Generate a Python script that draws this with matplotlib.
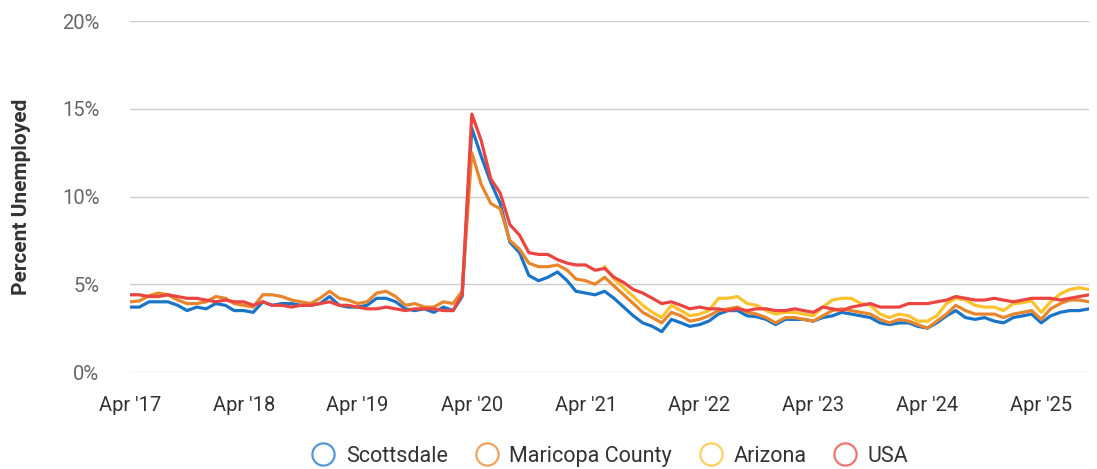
import numpy as np
import pandas as pd
import matplotlib
matplotlib.use("Agg")
import matplotlib.pyplot as plt
import matplotlib.dates as mdates
from matplotlib.lines import Line2D
from matplotlib.ticker import FuncFormatter

plt.rcParams["font.family"] = ["Roboto", "DejaVu Sans"]

# monthly unemployment rate (%), Apr 2017 .. Sep 2025
months = pd.date_range("2017-04-01", periods=102, freq="MS")

scottsdale = [
    3.7, 3.7, 4.0, 4.0, 4.0, 3.8, 3.5, 3.7, 3.6,
    3.9, 3.8, 3.5, 3.5, 3.4, 4.0, 3.8, 3.9, 3.9, 3.8, 3.8, 3.9,
    4.3, 3.8, 3.7, 3.7, 3.8, 4.2, 4.2, 4.0, 3.6, 3.5, 3.6, 3.4,
    3.7, 3.5, 4.3, 13.9, 12.3, 10.8, 9.6, 7.4, 6.8, 5.5, 5.2, 5.4,
    5.7, 5.2, 4.6, 4.5, 4.4, 4.6, 4.2, 3.7, 3.2, 2.8, 2.6, 2.3,
    3.0, 2.8, 2.6, 2.7, 2.9, 3.3, 3.5, 3.5, 3.2, 3.15, 3.0, 2.7,
    3.0, 3.0, 3.0, 2.9, 3.1, 3.2, 3.4, 3.3, 3.2, 3.1, 2.8, 2.7,
    2.8, 2.8, 2.6, 2.5, 2.8, 3.2, 3.5, 3.1, 3.0, 3.1, 2.9, 2.8,
    3.1, 3.2, 3.3, 2.8, 3.2, 3.4, 3.5, 3.5, 3.6,
]
maricopa = [
    4.0, 4.05, 4.35, 4.5, 4.4, 4.1, 3.9, 3.9, 4.0,
    4.3, 4.2, 3.9, 3.8, 3.7, 4.4, 4.4, 4.3, 4.1, 4.0, 3.9, 4.2,
    4.6, 4.2, 4.1, 3.9, 4.0, 4.5, 4.6, 4.3, 3.8, 3.9, 3.7, 3.7,
    4.0, 3.9, 4.6, 12.5, 10.7, 9.6, 9.3, 7.5, 7.0, 6.2, 6.0, 6.0,
    6.1, 5.8, 5.3, 5.2, 5.0, 5.4, 4.9, 4.4, 3.9, 3.4, 3.1, 2.8,
    3.4, 3.2, 2.9, 3.0, 3.2, 3.5, 3.6, 3.7, 3.4, 3.3, 3.1, 2.8,
    3.1, 3.1, 3.0, 2.9, 3.2, 3.5, 3.6, 3.5, 3.4, 3.3, 3.0, 2.8,
    3.0, 2.9, 2.7, 2.5, 2.9, 3.3, 3.8, 3.5, 3.3, 3.3, 3.3, 3.1,
    3.3, 3.4, 3.5, 3.0, 3.6, 3.9, 4.1, 4.1, 4.0,
]
# Arizona series only shown from Jun 2021
arizona = [np.nan] * 50 + [
    6.0, 5.3, 4.8, 4.3, 3.8, 3.4, 3.1,
    3.8, 3.5, 3.2, 3.3, 3.5, 4.2, 4.2, 4.3, 3.9, 3.8, 3.5, 3.3,
    3.4, 3.4, 3.3, 3.2, 3.7, 4.1, 4.2, 4.2, 3.9, 3.8, 3.3, 3.1,
    3.3, 3.2, 2.9, 2.9, 3.2, 3.9, 4.2, 4.1, 3.8, 3.7, 3.7, 3.5,
    3.9, 3.95, 4.05, 3.4, 4.0, 4.45, 4.7, 4.8, 4.7,
]
usa = [
    4.4, 4.4, 4.3, 4.3, 4.4, 4.3, 4.2, 4.2, 4.1,
    4.0, 4.1, 4.0, 4.0, 3.8, 4.0, 3.8, 3.8, 3.7, 3.8, 3.8, 3.9,
    4.0, 3.8, 3.8, 3.7, 3.6, 3.6, 3.7, 3.6, 3.5, 3.6, 3.6, 3.6,
    3.5, 3.5, 4.4, 14.7, 13.2, 11.0, 10.2, 8.4, 7.8, 6.8, 6.7, 6.7,
    6.4, 6.2, 6.1, 6.1, 5.8, 5.9, 5.4, 5.1, 4.7, 4.5, 4.2, 3.9,
    4.0, 3.8, 3.6, 3.7, 3.6, 3.6, 3.5, 3.6, 3.5, 3.6, 3.6, 3.5,
    3.5, 3.6, 3.5, 3.4, 3.7, 3.6, 3.5, 3.7, 3.8, 3.9, 3.7, 3.7,
    3.7, 3.9, 3.9, 3.9, 4.0, 4.1, 4.3, 4.2, 4.1, 4.1, 4.2, 4.1,
    4.0, 4.1, 4.2, 4.2, 4.2, 4.1, 4.2, 4.3, 4.4,
]

series = [
    ("Scottsdale", scottsdale, "#1a74c7"),
    ("Maricopa County", maricopa, "#e8862c"),
    ("Arizona", arizona, "#fcc22e"),
    ("USA", usa, "#eb4541"),
]

fig = plt.figure(figsize=(10.97, 4.69), dpi=100)
ax = fig.add_axes([0.1185, 0.2068, 0.8742, 0.7484])

for name, vals, col in series:
    ax.plot(months, vals, color=col, lw=2.3, solid_joinstyle="round")

ax.set_ylim(0, 20)
ax.set_yticks([0, 5, 10, 15, 20])
ax.yaxis.set_major_formatter(FuncFormatter(lambda v, _: f"{v:.0f}%"))
ax.set_xlim(months[0], months[-1])
apr_ticks = [d for d in months if d.month == 4]
ax.set_xticks(apr_ticks)
ax.xaxis.set_major_formatter(mdates.DateFormatter("Apr '%y"))

ax.grid(axis="y", color="#cccccc", lw=1)
ax.set_axisbelow(True)
for s in ax.spines.values():
    s.set_visible(False)
ax.tick_params(axis="y", length=0, pad=22, labelsize=14.5, labelcolor="#666666")
ax.tick_params(axis="x", length=0, pad=17, labelsize=14.5, labelcolor="#333333")
ax.set_ylabel("Percent Unemployed", fontsize=15, fontweight="bold", color="#333333", labelpad=22)

handles = [Line2D([], [], ls="none", marker="o", ms=16, mfc="none", mec=col,
                  mew=1.6, alpha=0.75) for _, _, col in series]
ax.legend(handles, [s[0] for s in series], loc="center", bbox_to_anchor=(0.5, -0.24),
          ncol=4, frameon=False, fontsize=15.5, handletextpad=0.45, columnspacing=1.2,
          handlelength=1.2, labelcolor="#333333")

fig.savefig("out.png", dpi=100)
